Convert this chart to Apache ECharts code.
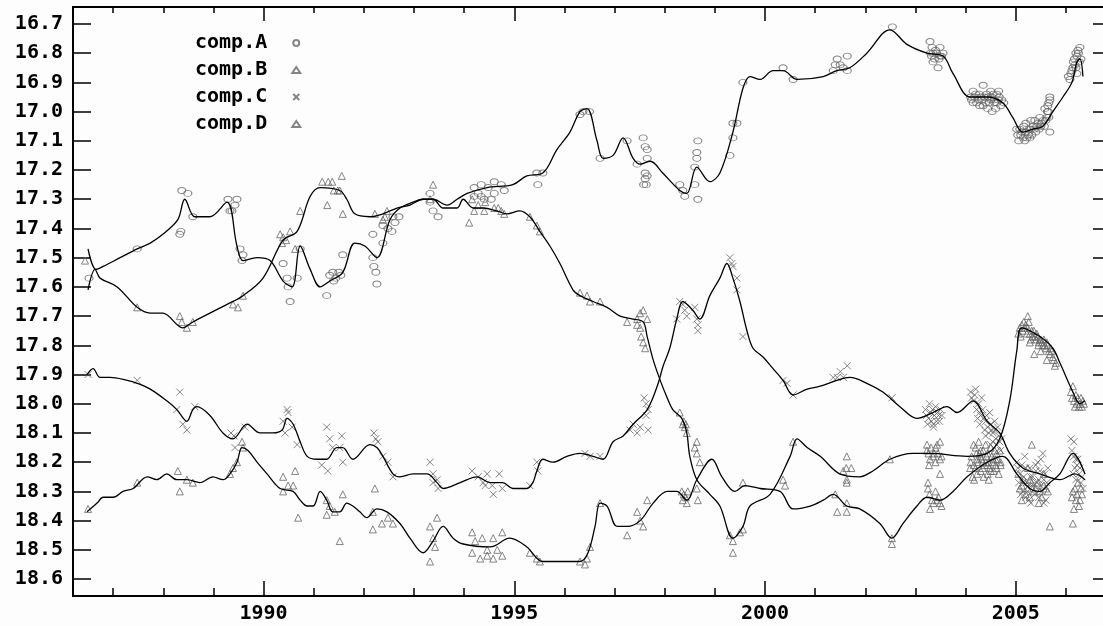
<!DOCTYPE html>
<html>
<head>
<meta charset="utf-8">
<script src="https://cdn.jsdelivr.net/npm/echarts@6/dist/echarts.min.js"></script>
<style>
html,body{margin:0;padding:0;background:#fdfdfd}
#chart{width:1103px;height:626px}
</style>
</head>
<body>
<div id="chart"></div>
<script>
// axis ticks
var yTicks = [16.7,16.8,16.9,17.0,17.1,17.2,17.3,17.4,17.5,17.6,17.7,17.8,17.9,18.0,18.1,18.2,18.3,18.4,18.5,18.6];
var xMajor = [1990,1995,2000,2005];
var xMinor = [1987,1988,1989,1990,1991,1992,1993,1994,1995,1996,1997,1998,1999,2000,2001,2002,2003,2004,2005,2006];

// comp.A
var aLine = [[1986.50,17.47],[1986.66,17.54],[1986.80,17.53],[1987.14,17.50],[1987.48,17.47],[1987.74,17.45],[1987.99,17.42],[1988.29,17.37],[1988.43,17.30],[1988.63,17.36],[1988.93,17.36],[1989.27,17.31],[1989.47,17.46],[1989.59,17.51],[1989.87,17.50],[1990.13,17.51],[1990.39,17.58],[1990.57,17.60],[1990.73,17.46],[1990.93,17.54],[1991.13,17.60],[1991.32,17.58],[1991.58,17.55],[1991.82,17.45],[1992.02,17.46],[1992.26,17.50],[1992.52,17.37],[1992.72,17.33],[1992.98,17.31],[1993.18,17.30],[1993.38,17.30],[1993.66,17.32],[1993.86,17.30],[1994.06,17.28],[1994.46,17.26],[1994.97,17.25],[1995.25,17.22],[1995.57,17.21],[1995.85,17.13],[1996.11,17.07],[1996.31,17.00],[1996.45,16.99],[1996.65,17.10],[1996.77,17.16],[1996.97,17.15],[1997.17,17.09],[1997.37,17.16],[1997.51,17.18],[1997.71,17.17],[1997.96,17.21],[1998.30,17.27],[1998.44,17.28],[1998.64,17.19],[1998.90,17.24],[1999.10,17.21],[1999.36,17.07],[1999.56,16.92],[1999.70,16.88],[1999.90,16.89],[2000.16,16.86],[2000.36,16.86],[2000.64,16.89],[2001.16,16.88],[2001.43,16.86],[2001.69,16.85],[2002.03,16.80],[2002.49,16.72],[2002.83,16.77],[2003.23,16.80],[2003.55,16.81],[2003.75,16.87],[2004.09,16.95],[2004.43,16.95],[2004.74,16.97],[2004.94,17.02],[2005.14,17.07],[2005.34,17.06],[2005.54,17.05],[2005.74,17.00],[2005.94,16.95],[2006.12,16.90],[2006.22,16.83],[2006.28,16.82],[2006.34,16.88]];
var aPts = [[1986.52,17.57],[1987.48,17.47],[1988.37,17.27],[1988.49,17.28],[1988.33,17.42],[1988.35,17.41],[1988.59,17.36],[1989.29,17.30],[1989.47,17.30],[1989.43,17.32],[1989.33,17.34],[1989.37,17.34],[1989.53,17.47],[1989.59,17.49],[1989.57,17.51],[1990.39,17.52],[1990.47,17.57],[1990.49,17.60],[1990.53,17.65],[1990.67,17.57],[1990.73,17.47],[1991.26,17.63],[1991.32,17.56],[1991.38,17.55],[1991.44,17.57],[1991.50,17.55],[1991.40,17.58],[1991.54,17.56],[1991.58,17.49],[1992.18,17.50],[1992.20,17.53],[1992.24,17.55],[1992.26,17.59],[1992.38,17.45],[1992.18,17.42],[1992.38,17.39],[1992.48,17.40],[1992.58,17.36],[1992.56,17.41],[1992.62,17.38],[1992.70,17.36],[1993.32,17.28],[1993.32,17.31],[1993.38,17.34],[1993.48,17.36],[1994.20,17.26],[1994.34,17.25],[1994.48,17.26],[1994.60,17.24],[1994.74,17.25],[1994.80,17.27],[1994.20,17.29],[1994.34,17.29],[1994.40,17.30],[1994.54,17.30],[1994.28,17.28],[1994.60,17.28],[1995.45,17.21],[1995.57,17.21],[1995.47,17.25],[1996.31,17.01],[1996.37,17.00],[1996.50,17.00],[1996.71,17.16],[1997.25,17.10],[1997.57,17.09],[1997.61,17.12],[1997.65,17.13],[1997.65,17.16],[1997.45,17.18],[1997.61,17.21],[1997.65,17.22],[1997.61,17.23],[1997.63,17.25],[1997.58,17.25],[1998.30,17.25],[1998.36,17.27],[1998.40,17.29],[1998.66,17.10],[1998.64,17.14],[1998.64,17.16],[1998.60,17.19],[1998.60,17.25],[1998.66,17.30],[1999.30,17.15],[1999.36,17.09],[1999.36,17.04],[1999.44,17.04],[1999.56,16.90],[2000.36,16.85],[2000.56,16.89],[2001.36,16.86],[2001.44,16.82],[2001.50,16.84],[2001.56,16.85],[2001.64,16.86],[2001.40,16.84],[2001.64,16.81],[2002.54,16.71],[2003.29,16.76],[2003.49,16.78],[2003.35,16.80],[2003.49,16.81],[2003.35,16.83],[2003.45,16.85],[2003.30,16.80],[2003.40,16.79],[2003.55,16.80],[2003.32,16.81],[2003.38,16.82],[2003.42,16.80],[2003.47,16.82],[2003.52,16.81],[2003.33,16.78],
    [2004.35,16.91],[2004.53,17.00],[2004.62,16.94],[2004.10,16.95],[2004.20,16.94],[2004.25,16.96],[2004.30,16.95],[2004.40,16.97],[2004.45,16.95],[2004.50,16.96],[2004.58,16.97],[2004.65,16.96],[2004.70,16.98],[2004.15,16.97],[2004.35,16.98],[2004.55,16.94],[2004.12,16.96],[2004.18,16.95],[2004.22,16.97],[2004.27,16.94],[2004.32,16.96],[2004.37,16.95],[2004.42,16.94],[2004.47,16.97],[2004.52,16.95],[2004.57,16.96],[2004.62,16.97],[2004.67,16.95],[2004.72,16.96],[2004.28,16.98],[2004.44,16.99],[2004.60,16.99],[2004.15,16.93],[2004.50,16.93],[2004.66,16.93],[2004.76,16.97],
    [2005.02,17.06],[2005.10,17.08],[2005.15,17.09],[2005.20,17.07],[2005.25,17.08],[2005.30,17.06],[2005.35,17.05],[2005.40,17.07],[2005.45,17.04],[2005.50,17.05],[2005.55,17.03],[2005.62,17.02],[2005.20,17.04],[2005.30,17.03],[2005.68,16.95],[2005.68,16.96],[2005.64,16.98],[2005.68,17.07],[2005.65,17.00],[2005.04,17.08],[2005.08,17.06],[2005.12,17.07],[2005.16,17.05],[2005.22,17.09],[2005.27,17.06],[2005.32,17.08],[2005.37,17.06],[2005.42,17.05],[2005.47,17.06],[2005.52,17.04],[2005.57,17.05],[2005.60,17.03],[2005.63,17.00],[2005.66,17.02],[2005.06,17.10],[2005.18,17.10],[2005.28,17.09],[2005.38,17.03],[2005.48,17.02],[2005.58,16.99],[2005.66,16.97],
    [2006.05,16.88],[2006.12,16.86],[2006.18,16.84],[2006.22,16.81],[2006.28,16.78],[2006.25,16.80],[2006.30,16.82],[2006.20,16.85],[2006.15,16.83],[2006.08,16.89],[2006.10,16.87],[2006.14,16.85],[2006.17,16.82],[2006.20,16.80],[2006.24,16.79],[2006.27,16.83],[2006.22,16.87]];

// comp.B
var bLine = [[1986.50,17.61],[1986.64,17.54],[1986.74,17.57],[1987.08,17.60],[1987.48,17.67],[1987.74,17.69],[1987.99,17.69],[1988.39,17.74],[1988.59,17.72],[1988.93,17.69],[1989.27,17.66],[1989.59,17.63],[1989.99,17.57],[1990.39,17.44],[1990.67,17.41],[1990.93,17.29],[1991.13,17.26],[1991.52,17.27],[1991.66,17.30],[1991.82,17.35],[1992.12,17.36],[1992.38,17.35],[1992.66,17.33],[1992.92,17.32],[1993.18,17.30],[1993.38,17.30],[1993.58,17.33],[1993.86,17.33],[1993.98,17.30],[1994.18,17.33],[1994.38,17.33],[1994.65,17.34],[1994.85,17.35],[1995.11,17.34],[1995.31,17.36],[1995.51,17.41],[1995.71,17.46],[1995.91,17.52],[1996.17,17.61],[1996.31,17.63],[1996.57,17.65],[1996.85,17.67],[1997.11,17.70],[1997.37,17.71],[1997.57,17.72],[1997.65,17.77],[1997.77,17.85],[1997.91,17.92],[1998.05,17.98],[1998.16,18.02],[1998.34,18.05],[1998.44,18.10],[1998.50,18.18],[1998.64,18.26],[1998.90,18.31],[1999.10,18.35],[1999.36,18.46],[1999.56,18.42],[1999.70,18.35],[2000.10,18.31],[2000.50,18.18],[2000.64,18.12],[2000.84,18.15],[2001.10,18.18],[2001.49,18.24],[2001.89,18.25],[2002.15,18.23],[2002.49,18.19],[2002.95,18.17],[2003.29,18.17],[2004.03,18.18],[2004.43,18.17],[2004.68,18.12],[2004.88,17.99],[2005.02,17.82],[2005.12,17.74],[2005.48,17.77],[2005.74,17.81],[2005.88,17.86],[2006.14,17.96],[2006.28,18.00],[2006.38,17.99]];
var bPts = [[1986.44,17.51],[1987.48,17.67],[1988.33,17.70],[1988.37,17.72],[1988.47,17.74],[1988.59,17.72],[1989.39,17.66],[1989.49,17.67],[1989.59,17.63],[1990.39,17.43],[1990.33,17.42],[1990.45,17.44],[1990.53,17.41],[1990.37,17.45],[1990.63,17.47],[1990.73,17.34],[1991.17,17.24],[1991.29,17.24],[1991.37,17.24],[1991.56,17.22],[1991.27,17.32],[1991.40,17.27],[1991.48,17.27],[1991.52,17.27],[1991.58,17.35],[1992.22,17.35],[1992.46,17.34],[1992.38,17.37],[1992.42,17.36],[1993.38,17.25],[1993.32,17.30],[1994.10,17.38],[1994.16,17.30],[1994.28,17.32],[1994.42,17.31],[1994.20,17.34],[1994.40,17.34],[1994.60,17.33],[1994.68,17.33],[1994.74,17.34],[1994.80,17.35],[1995.31,17.36],[1995.45,17.39],[1995.51,17.41],[1996.31,17.62],[1996.45,17.63],[1996.51,17.65],[1996.71,17.65],[1997.25,17.72],[1997.45,17.71],[1997.51,17.69],[1997.57,17.68],[1997.65,17.71],[1997.45,17.73],[1997.51,17.74],[1997.53,17.77],[1997.57,17.79],[1997.61,17.81],[1998.30,18.03],[1998.36,18.07],[1998.40,18.08],[1998.38,18.06],[1998.42,18.07],[1998.44,18.10],[1998.64,18.13],[1998.60,18.15],[1998.64,18.17],[1998.70,18.20],[1999.30,18.45],[1999.36,18.47],[1999.36,18.51],[1999.50,18.44],[1999.56,18.43],[2000.56,18.13],[2001.56,18.23],[2001.62,18.22],[2001.72,18.22],[2001.63,18.18],[2001.63,18.26],[2002.49,18.19],
    [2003.23,18.14],[2003.23,18.16],[2003.29,18.19],[2003.35,18.18],[2003.49,18.19],[2003.43,18.14],[2003.49,18.13],[2003.49,18.24],[2003.26,18.17],[2003.31,18.15],[2003.37,18.17],[2003.40,18.20],[2003.45,18.17],[2003.52,18.18],[2003.27,18.21],[2003.40,18.15],
    [2004.20,18.15],[2004.28,18.17],[2004.35,18.16],[2004.42,18.18],[2004.50,18.15],[2004.55,18.19],[2004.62,18.17],[2004.25,18.20],[2004.38,18.21],[2004.48,18.22],[2004.60,18.21],[2004.68,18.16],[2004.09,18.22],[2004.23,18.24],[2004.17,18.26],[2004.32,18.19],[2004.12,18.18],[2004.16,18.14],[2004.22,18.17],[2004.26,18.13],[2004.30,18.16],[2004.34,18.20],[2004.40,18.14],[2004.44,18.17],[2004.46,18.20],[2004.52,18.18],[2004.58,18.16],[2004.64,18.19],[2004.70,18.20],[2004.30,18.23],[2004.44,18.24],[2004.56,18.23],
    [2005.05,17.76],[2005.12,17.73],[2005.18,17.74],[2005.26,17.72],[2005.22,17.76],[2005.32,17.75],[2005.38,17.77],[2005.42,17.76],[2005.48,17.78],[2005.52,17.79],[2005.58,17.80],[2005.62,17.79],[2005.66,17.82],[2005.70,17.81],[2005.74,17.84],[2005.37,17.83],[2005.62,17.85],[2005.30,17.78],[2005.45,17.80],[2005.08,17.74],[2005.14,17.75],[2005.16,17.72],[2005.20,17.73],[2005.24,17.74],[2005.28,17.76],[2005.34,17.77],[2005.36,17.75],[2005.40,17.78],[2005.44,17.77],[2005.46,17.79],[2005.50,17.78],[2005.54,17.80],[2005.56,17.78],[2005.60,17.81],[2005.64,17.80],[2005.68,17.83],[2005.72,17.82],[2005.76,17.85],[2005.78,17.87],[2005.80,17.86],[2005.10,17.77],[2005.28,17.79],[2005.50,17.82],[2005.24,17.70],
    [2006.10,17.96],[2006.16,17.99],[2006.22,18.00],[2006.28,18.00],[2006.34,17.99],[2006.20,17.97],[2006.30,17.98],[2006.12,17.98],[2006.18,18.01],[2006.24,17.98],[2006.26,18.01],[2006.32,18.01],[2006.14,17.94],[2006.36,18.00]];

// comp.C
var cLine = [[1986.48,17.90],[1986.60,17.88],[1986.74,17.91],[1986.94,17.91],[1987.28,17.92],[1987.48,17.93],[1987.74,17.95],[1988.07,17.99],[1988.27,18.02],[1988.47,18.06],[1988.59,18.02],[1988.67,18.01],[1988.93,18.04],[1989.19,18.10],[1989.39,18.12],[1989.67,18.07],[1989.93,18.10],[1990.19,18.10],[1990.37,18.09],[1990.47,18.05],[1990.59,18.07],[1990.73,18.13],[1990.87,18.18],[1991.07,18.19],[1991.26,18.19],[1991.46,18.15],[1991.58,18.15],[1991.78,18.19],[1992.12,18.14],[1992.26,18.15],[1992.38,18.18],[1992.58,18.24],[1992.72,18.25],[1992.98,18.24],[1993.26,18.24],[1993.46,18.27],[1993.58,18.29],[1993.92,18.27],[1994.26,18.25],[1994.52,18.27],[1994.77,18.27],[1994.97,18.29],[1995.25,18.29],[1995.37,18.27],[1995.45,18.23],[1995.57,18.19],[1995.77,18.20],[1996.05,18.18],[1996.31,18.17],[1996.57,18.18],[1996.77,18.19],[1996.97,18.13],[1997.17,18.11],[1997.37,18.07],[1997.65,18.02],[1997.85,17.94],[1997.97,17.87],[1998.10,17.81],[1998.24,17.71],[1998.36,17.65],[1998.56,17.68],[1998.70,17.71],[1998.90,17.63],[1999.10,17.57],[1999.24,17.52],[1999.36,17.57],[1999.50,17.65],[1999.64,17.75],[1999.76,17.81],[1999.96,17.84],[2000.16,17.88],[2000.36,17.92],[2000.56,17.97],[2000.84,17.95],[2001.10,17.94],[2001.43,17.92],[2001.69,17.91],[2002.03,17.93],[2002.35,17.96],[2002.69,18.01],[2003.03,18.05],[2003.35,18.03],[2003.63,18.01],[2003.83,18.03],[2004.15,17.99],[2004.43,18.06],[2004.68,18.10],[2004.88,18.17],[2005.14,18.22],[2005.48,18.24],[2005.88,18.26],[2006.18,18.24],[2006.38,18.26]];
var cPts = [[1986.50,17.90],[1987.48,17.92],[1988.33,17.96],[1988.27,18.02],[1988.39,18.07],[1988.47,18.09],[1988.63,18.01],[1989.35,18.10],[1989.41,18.11],[1989.63,18.08],[1989.43,18.15],[1990.47,18.02],[1990.49,18.03],[1990.39,18.06],[1990.43,18.10],[1990.57,18.08],[1990.67,18.14],[1991.26,18.08],[1991.16,18.21],[1991.28,18.23],[1991.32,18.12],[1991.38,18.15],[1991.56,18.11],[1991.52,18.15],[1991.58,18.20],[1992.20,18.10],[1992.24,18.12],[1992.28,18.13],[1992.38,18.18],[1992.48,18.20],[1992.58,18.25],[1993.32,18.20],[1993.38,18.24],[1993.46,18.26],[1993.38,18.27],[1993.48,18.29],[1994.16,18.23],[1994.28,18.25],[1994.38,18.27],[1994.46,18.24],[1994.42,18.28],[1994.56,18.28],[1994.58,18.31],[1994.70,18.24],[1994.76,18.29],[1995.31,18.28],[1995.45,18.20],[1995.47,18.23],[1996.41,18.17],[1996.51,18.18],[1996.71,18.18],[1997.31,18.09],[1997.37,18.07],[1997.51,18.08],[1997.45,18.10],[1997.59,17.98],[1997.63,18.00],[1997.67,18.02],[1997.63,18.04],[1997.67,18.09],[1998.30,17.65],[1998.36,17.66],[1998.40,17.68],[1998.44,17.70],[1998.60,17.67],[1998.24,17.71],[1998.64,17.71],[1998.66,17.73],[1998.66,17.75],[1999.30,17.50],[1999.34,17.52],[1999.36,17.53],[1999.44,17.57],[1999.44,17.61],[1999.56,17.77],[2000.36,17.92],[2000.44,17.93],[2000.56,17.97],[2001.36,17.91],[2001.50,17.89],[2001.64,17.87],[2001.56,17.91],[2001.44,17.91],[2002.53,17.98],
    [2003.20,18.02],[2003.26,18.05],[2003.30,18.03],[2003.36,18.07],[2003.40,18.01],[2003.46,18.04],[2003.50,18.02],[2003.28,18.00],[2003.42,18.06],[2003.22,18.04],[2003.32,18.06],[2003.34,18.02],[2003.38,18.04],[2003.44,18.03],[2003.48,18.06],[2003.53,18.04],[2003.24,18.07],[2003.36,18.08],
    [2004.10,17.96],[2004.16,17.99],[2004.20,17.95],[2004.26,18.00],[2004.30,18.04],[2004.34,18.02],[2004.40,18.06],[2004.44,18.08],[2004.50,18.07],[2004.55,18.10],[2004.60,18.12],[2004.66,18.11],[2004.48,18.03],[2004.38,18.09],[2004.24,18.05],[2004.58,18.06],[2004.12,17.98],[2004.18,17.97],[2004.22,18.02],[2004.28,18.03],[2004.32,17.98],[2004.36,18.05],[2004.42,18.04],[2004.46,18.10],[2004.52,18.09],[2004.54,18.13],[2004.58,18.09],[2004.62,18.14],[2004.64,18.08],[2004.68,18.13],[2004.72,18.12],[2004.70,18.16],[2004.28,18.07],[2004.40,18.11],[2004.50,18.14],
    [2005.02,18.20],[2005.08,18.24],[2005.14,18.27],[2005.20,18.22],[2005.24,18.30],[2005.30,18.25],[2005.36,18.28],[2005.40,18.23],[2005.46,18.26],[2005.52,18.30],[2005.58,18.24],[2005.10,18.31],[2005.26,18.33],[2005.60,18.33],[2005.54,18.17],[2005.18,18.18],[2005.44,18.20],[2005.04,18.22],[2005.06,18.27],[2005.12,18.21],[2005.16,18.25],[2005.22,18.27],[2005.28,18.22],[2005.32,18.28],[2005.34,18.25],[2005.38,18.31],[2005.42,18.27],[2005.48,18.23],[2005.50,18.28],[2005.56,18.26],[2005.62,18.27],[2005.64,18.22],[2005.20,18.32],[2005.30,18.34],[2005.46,18.32],[2005.56,18.34],[2005.14,18.30],[2005.40,18.21],[2005.50,18.19],
    [2006.10,18.12],[2006.16,18.13],[2006.16,18.18],[2006.22,18.21],[2006.26,18.24],[2006.30,18.27],[2006.20,18.19],[2006.12,18.16],[2006.18,18.22],[2006.24,18.19],[2006.28,18.22],[2006.32,18.25],[2006.20,18.26],[2006.34,18.29],[2006.14,18.24]];

// comp.D
var dLine = [[1986.48,18.37],[1986.68,18.34],[1986.80,18.32],[1987.00,18.32],[1987.20,18.30],[1987.40,18.29],[1987.68,18.25],[1987.87,18.26],[1988.07,18.24],[1988.27,18.26],[1988.47,18.26],[1988.73,18.27],[1988.99,18.25],[1989.19,18.26],[1989.33,18.24],[1989.47,18.20],[1989.57,18.15],[1989.69,18.16],[1989.87,18.20],[1990.07,18.24],[1990.33,18.29],[1990.59,18.30],[1990.73,18.33],[1990.87,18.35],[1990.99,18.35],[1991.13,18.30],[1991.26,18.33],[1991.38,18.37],[1991.52,18.37],[1991.66,18.34],[1991.78,18.35],[1991.92,18.37],[1992.06,18.39],[1992.26,18.36],[1992.46,18.37],[1992.72,18.41],[1992.92,18.46],[1993.18,18.51],[1993.38,18.47],[1993.58,18.42],[1993.78,18.46],[1993.98,18.48],[1994.52,18.49],[1994.91,18.46],[1995.25,18.49],[1995.57,18.54],[1996.31,18.54],[1996.47,18.51],[1996.61,18.42],[1996.71,18.34],[1996.85,18.35],[1997.05,18.42],[1997.25,18.42],[1997.51,18.40],[1997.77,18.34],[1998.05,18.30],[1998.24,18.30],[1998.44,18.33],[1998.64,18.26],[1998.94,18.19],[1999.14,18.25],[1999.40,18.30],[1999.60,18.28],[1999.90,18.29],[2000.30,18.30],[2000.56,18.36],[2000.90,18.35],[2001.16,18.33],[2001.36,18.31],[2001.63,18.35],[2001.89,18.36],[2002.29,18.41],[2002.53,18.46],[2002.75,18.41],[2003.03,18.35],[2003.23,18.32],[2003.49,18.33],[2003.75,18.30],[2004.03,18.25],[2004.43,18.20],[2004.74,18.18],[2005.02,18.24],[2005.28,18.29],[2005.48,18.30],[2005.68,18.27],[2005.88,18.24],[2006.14,18.17],[2006.38,18.24]];
var dPts = [[1986.50,18.36],[1987.48,18.27],[1988.29,18.23],[1988.33,18.30],[1988.47,18.26],[1988.59,18.27],[1989.33,18.24],[1989.39,18.22],[1989.47,18.20],[1989.57,18.13],[1989.59,18.15],[1990.39,18.25],[1990.49,18.28],[1990.59,18.28],[1990.63,18.23],[1990.39,18.30],[1990.69,18.39],[1991.26,18.33],[1991.32,18.35],[1991.42,18.37],[1991.58,18.31],[1991.26,18.38],[1991.52,18.47],[1992.22,18.29],[1992.18,18.37],[1992.36,18.41],[1992.18,18.43],[1992.48,18.39],[1992.58,18.41],[1993.32,18.42],[1993.46,18.39],[1993.38,18.46],[1993.42,18.49],[1993.32,18.54],[1994.16,18.44],[1994.22,18.47],[1994.36,18.46],[1994.58,18.46],[1994.76,18.44],[1994.16,18.51],[1994.32,18.53],[1994.46,18.52],[1994.58,18.53],[1994.76,18.52],[1994.46,18.50],[1994.66,18.50],[1995.31,18.51],[1995.45,18.53],[1995.51,18.54],[1996.31,18.54],[1996.41,18.55],[1996.45,18.53],[1996.51,18.49],[1996.71,18.34],[1997.25,18.45],[1997.45,18.37],[1997.65,18.33],[1997.51,18.40],[1997.57,18.42],[1998.34,18.30],[1998.36,18.33],[1998.44,18.34],[1998.38,18.31],[1998.42,18.32],[1998.46,18.30],[1998.64,18.29],[1998.66,18.33],[1999.56,18.27],[2000.36,18.26],[2000.40,18.28],[2001.40,18.31],[2001.44,18.37],[2001.63,18.37],[2001.63,18.27],[2001.63,18.34],[2002.53,18.46],[2002.53,18.48],
    [2003.25,18.27],[2003.25,18.29],[2003.33,18.33],[2003.43,18.33],[2003.49,18.34],[2003.29,18.36],[2003.28,18.31],[2003.36,18.34],[2003.40,18.30],[2003.46,18.32],[2003.52,18.35],
    [2004.10,18.20],[2004.20,18.22],[2004.30,18.18],[2004.40,18.20],[2004.50,18.23],[2004.60,18.19],[2004.66,18.24],[2004.14,18.25],[2004.16,18.21],[2004.24,18.19],[2004.34,18.22],[2004.44,18.21],[2004.54,18.20],[2004.62,18.22],[2004.70,18.21],[2004.36,18.25],[2004.46,18.26],
    [2005.05,18.24],[2005.12,18.28],[2005.20,18.31],[2005.28,18.26],[2005.36,18.30],[2005.44,18.27],[2005.52,18.32],[2005.60,18.29],[2005.32,18.14],[2005.68,18.42],[2005.08,18.29],[2005.16,18.26],[2005.24,18.29],[2005.32,18.27],[2005.40,18.29],[2005.48,18.30],[2005.56,18.28],[2005.64,18.30],[2005.12,18.33],[2005.28,18.32],[2005.46,18.34],[2005.24,18.22],[2005.56,18.24],
    [2006.14,18.41],[2006.14,18.30],[2006.20,18.33],[2006.26,18.35],[2006.30,18.29],[2006.12,18.32],[2006.18,18.29],[2006.22,18.31],[2006.28,18.33],[2006.32,18.31],[2006.16,18.36],[2006.24,18.27]];

var font = 'DejaVu Sans Mono';
var gray = '#666666';
var crossPath = 'path://M0,0L10,10M10,0L0,10';

function xAxisOf(pos, ticks, len, labels) {
    return {
        type: 'value', position: pos, min: 1986.2, max: 2006.74,
        axisLine: {show: true, lineStyle: {color: '#000', width: 2}},
        axisTick: {show: true, inside: true, length: len, customValues: ticks, lineStyle: {color: '#000', width: 1.5}},
        axisLabel: labels ? {show: true, customValues: ticks, margin: 8, color: '#000',
            fontFamily: font, fontWeight: 'bold', fontSize: 20,
            formatter: function (v) { return String(Math.round(v)); }} : {show: false},
        splitLine: {show: false}
    };
}

function yAxisOf(pos, len, labels) {
    return {
        type: 'value', position: pos, inverse: true, min: 16.642, max: 18.658,
        axisLine: {show: pos === 'left', lineStyle: {color: '#000', width: 2}},
        axisTick: {show: true, inside: true, length: len, customValues: yTicks, lineStyle: {color: '#000', width: 1.5}},
        axisLabel: labels ? {show: true, customValues: yTicks, margin: 10, color: '#000',
            fontFamily: font, fontWeight: 'bold', fontSize: 20,
            formatter: function (v) { return v.toFixed(1); }} : {show: false},
        splitLine: {show: false}
    };
}

function fit(name, data) {
    return {
        name: name, type: 'line', data: data, smooth: 0.35, showSymbol: false, symbol: 'none',
        lineStyle: {color: '#000', width: 1.3}, silent: true, z: 3
    };
}

function pts(name, data, symbol, size) {
    return {
        name: name, type: 'scatter', data: data, symbol: symbol, symbolSize: size,
        itemStyle: {color: 'transparent', borderColor: gray, borderWidth: 1}, z: 2
    };
}

var myChart = echarts.init(document.getElementById('chart'));
var option = {
    backgroundColor: '#fdfdfd',
    animation: false,
    grid: {left: 73, right: 0, top: 7, bottom: 30, containLabel: false, outerBoundsMode: 'none'},
    legend: {
        data: ['comp.A', 'comp.B', 'comp.C', 'comp.D'],
        orient: 'vertical', left: 190, top: 28, align: 'right',
        itemGap: 7, itemWidth: 8, itemHeight: 6,
        textStyle: {fontFamily: font, fontWeight: 'bold', fontSize: 20, color: '#000', padding: [0, 20, 0, 0]}
    },
    xAxis: [
        xAxisOf('bottom', xMajor, 15, true),
        xAxisOf('bottom', xMinor, 8, false),
        xAxisOf('top', xMajor, 14, false),
        xAxisOf('top', xMinor, 6, false)
    ],
    yAxis: [
        yAxisOf('left', 18, true),
        yAxisOf('right', 10, false)
    ],
    series: [
        fit('fitA', aLine), pts('comp.A', aPts, 'circle', [8, 6]),
        fit('fitB', bLine), pts('comp.B', bPts, 'triangle', 7),
        fit('fitC', cLine), pts('comp.C', cPts, crossPath, 7),
        fit('fitD', dLine), pts('comp.D', dPts, 'triangle', 7)
    ]
};
myChart.setOption(option);
</script>
</body>
</html>
